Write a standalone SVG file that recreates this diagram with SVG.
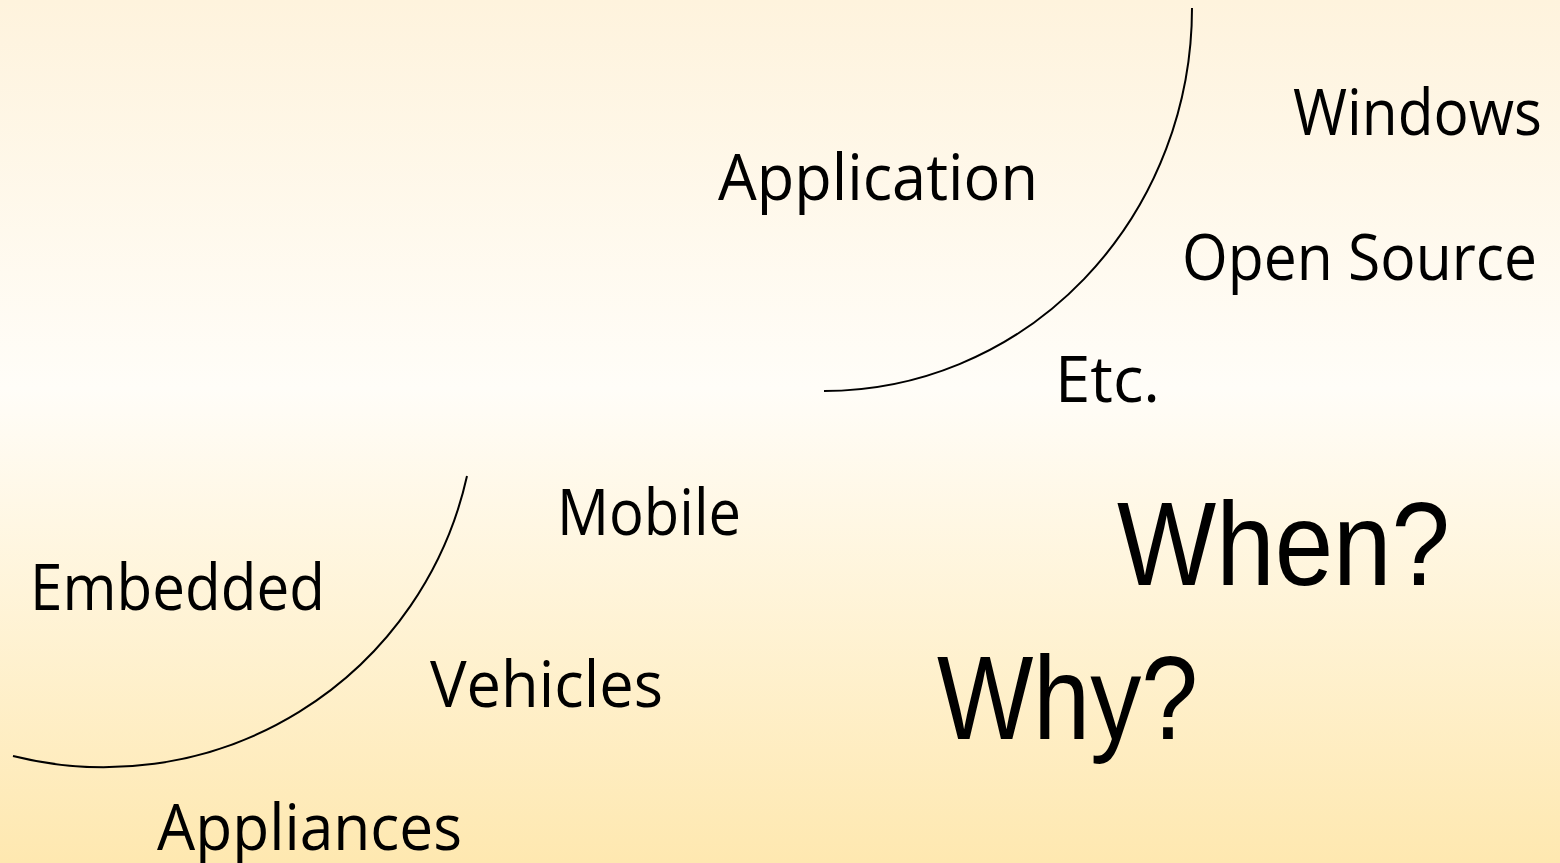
<svg xmlns="http://www.w3.org/2000/svg" width="1560" height="863" viewBox="0 0 1560 863">
<defs>
<linearGradient id="bg" x1="0" y1="0" x2="0" y2="1">
<stop offset="0" stop-color="#FEF3DD"/>
<stop offset="0.45" stop-color="#FFFDF8"/>
<stop offset="1" stop-color="#FEE8B0"/>
</linearGradient>
<style>
.t{font-family:"Open Sans","Noto Sans","DejaVu Sans",sans-serif;font-size:64px;fill:#000}
.b{font-family:"Liberation Sans",Arial,sans-serif;font-size:118px;fill:#000}
.arc{fill:none;stroke:#000;stroke-width:2}
</style>
</defs>
<rect width="1560" height="863" fill="url(#bg)"/>
<g id="connectors">
<path class="arc" d="M1192,8 A368,383 0 0,1 824,391"/>
<path class="arc" d="M467,476 A372,372 0 0,1 13,756"/>
</g>
<g id="windows"><text class="t" x="1293" y="135" textLength="249" lengthAdjust="spacingAndGlyphs">Windows</text></g>
<g id="application"><text class="t" x="718" y="200" textLength="320" lengthAdjust="spacingAndGlyphs">Application</text></g>
<g id="opensource"><text class="t" x="1182" y="280" textLength="355" lengthAdjust="spacingAndGlyphs">Open Source</text></g>
<g id="etc"><text class="t" x="1055" y="402" textLength="105" lengthAdjust="spacingAndGlyphs">Etc.</text></g>
<g id="mobile"><text class="t" x="557" y="535" textLength="184" lengthAdjust="spacingAndGlyphs">Mobile</text></g>
<g id="embedded"><text class="t" x="30" y="610" textLength="295" lengthAdjust="spacingAndGlyphs">Embedded</text></g>
<g id="vehicles"><text class="t" x="430" y="707" textLength="233" lengthAdjust="spacingAndGlyphs">Vehicles</text></g>
<g id="appliances"><text class="t" x="157" y="850" textLength="305" lengthAdjust="spacingAndGlyphs">Appliances</text></g>
<g id="when"><text class="b" x="1117" y="585" textLength="333" lengthAdjust="spacingAndGlyphs">When?</text></g>
<g id="why"><text class="b" x="937" y="739" textLength="261" lengthAdjust="spacingAndGlyphs">Why?</text></g>
</svg>
